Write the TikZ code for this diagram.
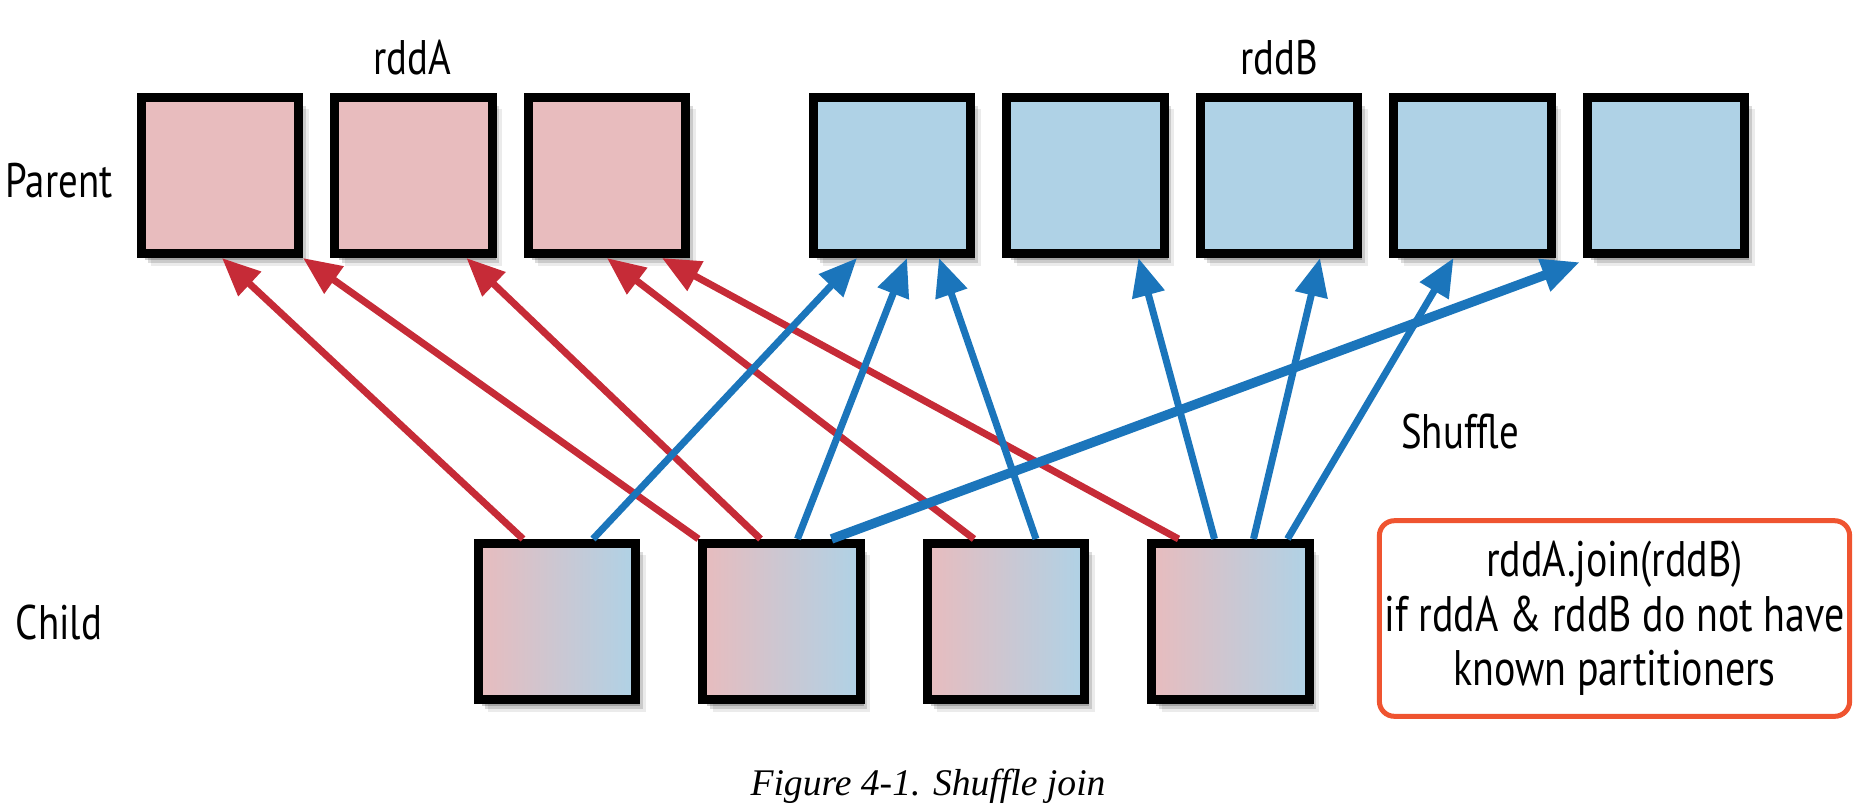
\documentclass[tikz,border=0pt]{standalone}
\usepackage{fontspec}
\setmainfont{PT Sans}[FakeStretch=0.8]
\newfontfamily\capfont{Liberation Serif}
\usetikzlibrary{arrows.meta}
\usetikzlibrary{shadows}
\usetikzlibrary{calc}
\definecolor{rddApink}{HTML}{E8BCBE}
\definecolor{rddBblue}{HTML}{AFD2E6}
\definecolor{arrred}{HTML}{C62B37}
\definecolor{arrblue}{HTML}{1B75BB}
\definecolor{noteorange}{HTML}{EF5430}

\begin{document}
\begin{tikzpicture}[x=0.01cm, y=-0.01cm,
    part/.style={draw=black, line width=0.09cm, minimum width=1.57cm, minimum height=1.56cm, inner sep=0pt,
        drop shadow={shadow xshift=0.1cm, shadow yshift=-0.12cm, opacity=0.08, fill=black},
        drop shadow={shadow xshift=0.07cm, shadow yshift=-0.09cm, opacity=0.14, fill=black},
        drop shadow={shadow xshift=0.04cm, shadow yshift=-0.06cm, opacity=0.2, fill=black}},
    lbl/.style={inner sep=0pt, font=\fontsize{13.8}{16}\selectfont},
    redarr/.style={draw=arrred, line width=0.07cm, -{Triangle[length=0.38cm, width=0.32cm]}},
    bluearr/.style={draw=arrblue, line width=0.07cm, -{Triangle[length=0.38cm, width=0.32cm]}}]
        \useasboundingbox (0,0) rectangle (1854,808);
        % parent partitions
        \node[part, fill=rddApink] (pa1) at (220,175.5) {};
        \node[part, fill=rddApink] (pa2) at (413.5,175.5) {};
        \node[part, fill=rddApink] (pa3) at (607,175.5) {};
        \node[part, fill=rddBblue] (pb1) at (892,175.5) {};
        \node[part, fill=rddBblue] (pb2) at (1085.5,175.5) {};
        \node[part, fill=rddBblue] (pb3) at (1279,175.5) {};
        \node[part, fill=rddBblue] (pb4) at (1472.5,175.5) {};
        \node[part, fill=rddBblue] (pb5) at (1666,175.5) {};
        % child partitions
        \node[part, left color=rddApink, right color=rddBblue] (c1) at (557,621.5) {};
        \node[part, left color=rddApink, right color=rddBblue] (c2) at (781.5,621.5) {};
        \node[part, left color=rddApink, right color=rddBblue] (c3) at (1006,621.5) {};
        \node[part, left color=rddApink, right color=rddBblue] (c4) at (1230.5,621.5) {};
        \node[lbl] (rddAlbl) at (412,58) {rddA};
        \node[lbl] (rddBlbl) at (1279,58) {rddB};
        \node[lbl] (parentlbl) at (59,181) {Parent};
        \node[lbl] (childlbl) at (59,622) {Child};
        \node[lbl] (shufflelbl) at (1460,431) {Shuffle};
        \draw[redarr] ($(c1.north)+(-34,0)$) -- ($(pa1.south)+(2,0)$);
        \draw[redarr] (c2.north west) -- (pa1.south east);
        \draw[redarr] ($(c2.north)+(-21,0)$) -- ($(pa2.south)+(53,0)$);
        \draw[redarr] ($(c3.north)+(-32,0)$) -- (pa3.south);
        \draw[redarr] ($(c4.north)+(-52,0)$) -- ($(pa3.south)+(55,0)$);
        \draw[bluearr] ($(c1.north)+(36,0)$) -- ($(pb1.south)+(-35,0)$);
        \draw[bluearr] ($(c2.north)+(16,0)$) -- ($(pb1.south)+(15,0)$);
        \draw[bluearr] ($(c3.north)+(30,0)$) -- ($(pb1.south)+(47,0)$);
        \draw[bluearr, line width=0.095cm] ($(c2.north)+(50,0)$) -- ($(pb5.south west)+(-3,4)$);
        \draw[bluearr] ($(c4.north)+(-16,0)$) -- ($(pb2.south)+(53,0)$);
        \draw[bluearr] ($(c4.north)+(23,0)$) -- ($(pb3.south)+(41,0)$);
        \draw[bluearr] ($(c4.north)+(57,0)$) -- ($(pb4.south)+(-19,0)$);
        \node[draw=noteorange, line width=0.05cm, rounded corners=0.15cm, minimum width=4.7cm, minimum height=1.955cm,
            inner sep=1pt, align=center, font=\fontsize{14.2}{15.5}\selectfont] (note) at (1614.5,618.5)
            {rddA.join(rddB)\\if rddA \& rddB do not have\\known partitioners};
        \node[font=\capfont\itshape\fontsize{10.7}{13}\selectfont] (caption) at (928,786) {Figure 4-1. Shuffle join};
    \end{tikzpicture}
\end{document}
